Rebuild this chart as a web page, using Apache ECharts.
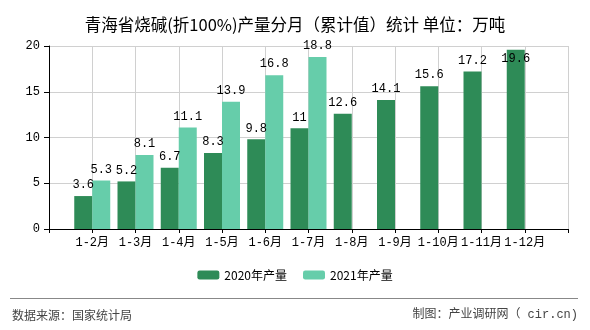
<!DOCTYPE html>
<html>
<head>
<meta charset="utf-8">
<script src="https://cdn.jsdelivr.net/npm/echarts@6/dist/echarts.min.js"></script>
<style>
html,body{margin:0;padding:0;background:#fff;}
#c{width:590px;height:330px;}
</style>
</head>
<body>
<div id="c"></div>
<script>
var categories = ['1-2月','1-3月','1-4月','1-5月','1-6月','1-7月','1-8月','1-9月','1-10月','1-11月','1-12月'];
var values2020 = [3.6, 5.2, 6.7, 8.3, 9.8, 11, 12.6, 14.1, 15.6, 17.2, 19.6];
var values2021 = [5.3, 8.1, 11.1, 13.9, 16.8, 18.8, null, null, null, null, null];
var yTicks = [0, 5, 10, 15, 20];

var cats = [''].concat(categories).concat(['']);
var yMax = yTicks[yTicks.length-1];
// labels that would overflow the plot top are drawn just inside the bar top
function pad(a){
  var out = a.map(function(v){
    if (v != null && v > yMax - 1) {
      return {value:v, label:{position:'insideTop', distance:3}};
    }
    return v;
  });
  return [null].concat(out).concat([null]);
}

var chart = echarts.init(document.getElementById('c'), null, {renderer:'canvas'});
var monoFont = "'Liberation Mono','Noto Sans CJK SC',monospace";
var labelCfg = {show:true, position:'top', distance:5, color:'#000', fontSize:12, fontFamily:monoFont,
  formatter:function(p){return p.value==null?'':p.value;}};
chart.setOption({
  animation:false,
  title:{text:'青海省烧碱(折100%)产量分月（累计值）统计 单位：万吨', left:'center', top:11,
    textStyle:{fontSize:16.5, fontWeight:'normal', color:'#000', fontFamily:"'Noto Sans CJK SC'"}},
  grid:{left:49, right:22, top:46, bottom:101, containLabel:false},
  legend:{bottom:44, left:'center', itemWidth:22, itemHeight:9, itemGap:16,
    textStyle:{fontSize:12, color:'#000', fontFamily:"'Noto Sans CJK SC'"},
    data:['2020年产量','2021年产量']},
  xAxis:{type:'category', data:cats, boundaryGap:false,
    axisLine:{lineStyle:{color:'#000', width:1}},
    axisTick:{show:true, length:4, lineStyle:{color:'#000'}},
    axisLabel:{color:'#000', fontSize:12, fontFamily:monoFont, margin:8, interval:0},
    splitLine:{show:true, lineStyle:{color:'#d0d0d0', width:1}}},
  yAxis:{type:'value', min:yTicks[0], max:yMax, interval:5,
    axisLine:{show:true, lineStyle:{color:'#000', width:1}},
    axisTick:{show:true, length:5, lineStyle:{color:'#000'}},
    axisLabel:{color:'#000', fontSize:12, fontFamily:monoFont, margin:9},
    splitLine:{show:true, lineStyle:{color:'#d0d0d0', width:1}}},
  series:[
    {name:'2020年产量', type:'bar', data:pad(values2020), barWidth:18, barGap:'0%',
      itemStyle:{color:'#2e8b57'}, label:labelCfg},
    {name:'2021年产量', type:'bar', data:pad(values2021), barWidth:18, barGap:'0%',
      itemStyle:{color:'#66cdaa'}, label:labelCfg}
  ],
  graphic:[
    {type:'line', shape:{x1:10, y1:298.5, x2:578, y2:298.5}, style:{stroke:'#888', lineWidth:1}},
    {type:'text', left:12, top:309, style:{text:'数据来源：国家统计局', fill:'#444', fontSize:12, fontFamily:"'Noto Sans CJK SC'"}},
    {type:'text', right:12, top:309, style:{text:'制图：产业调研网（ cir.cn)', fill:'#444', fontSize:12, fontFamily:monoFont}}
  ]
});
</script>
</body>
</html>
